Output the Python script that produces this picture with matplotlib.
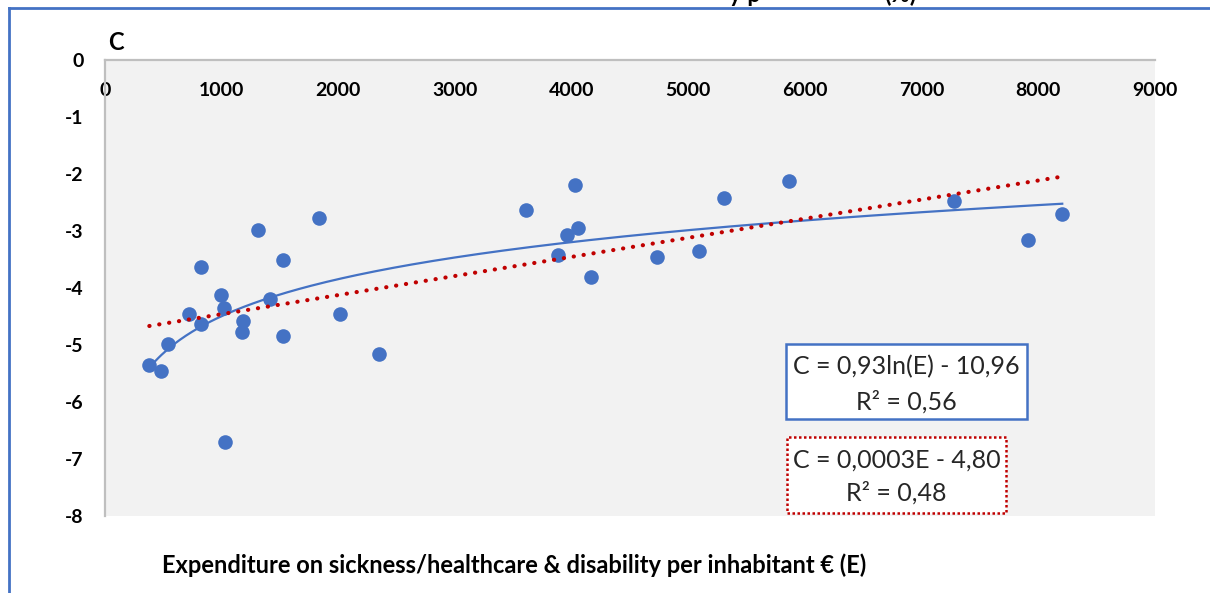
import numpy as np
import matplotlib as mpl

mpl.use("Agg")

import matplotlib.pyplot as plt
from matplotlib.patches import Rectangle
from matplotlib.lines import Line2D

# ================================
# data
# ================================
expenditure = [380, 483, 540, 720, 823, 826, 991, 1017, 1026, 1186, 1174, 1311,
               1411, 1523, 1523, 1837, 2011, 2351, 3608, 4029, 4052, 3963, 3880,
               4166, 4729, 5091, 5308, 5863, 7280, 7914, 8205]
c_values = [-5.35, -5.46, -4.99, -4.46, -4.63, -3.63, -4.13, -4.35, -6.70, -4.58,
            -4.77, -2.99, -4.20, -3.51, -4.84, -2.77, -4.46, -5.16, -2.63, -2.19,
            -2.94, -3.07, -3.42, -3.81, -3.46, -3.35, -2.42, -2.12, -2.47, -3.16,
            -2.70]
x_ticks = [0, 1000, 2000, 3000, 4000, 5000, 6000, 7000, 8000, 9000]
y_ticks = [0, -1, -2, -3, -4, -5, -6, -7, -8]

log_eq = ["C = 0,93ln(E) - 10,96", "R² = 0,56"]
lin_eq = ["C = 0,0003E - 4,80", "R² = 0,48"]
x_label = "Expenditure on sickness/healthcare & disability per inhabitant € (E)"
y_label = "C"

BLUE = "#4472c4"
RED = "#c00000"
FONT = ["Lato", "DejaVu Sans"]

W, H = 1210, 593
fig = plt.figure(figsize=(W / 100, H / 100), dpi=100)
fig.patch.set_facecolor("white")


def fx(px):
    return px / W


def fy(py):
    return 1 - py / H


ax = fig.add_axes([fx(105), fy(516), fx(1050), 456 / H])
ax.set_facecolor("#f2f2f2")
ax.set_xlim(0, 9000)
ax.set_ylim(-8, 0)

for side in ["right", "bottom"]:
    ax.spines[side].set_visible(False)
for side in ["top", "left"]:
    ax.spines[side].set_color("#bfbfbf")
    ax.spines[side].set_linewidth(1.6)

ax.set_xticks(x_ticks)
ax.set_xticklabels([str(t) for t in x_ticks])
ax.tick_params(axis="x", top=True, bottom=False, labeltop=True, labelbottom=False,
               length=0, pad=-28)
ax.set_yticks(y_ticks)
ax.set_yticklabels([str(t) for t in y_ticks])
ax.tick_params(axis="y", length=0, pad=15.5)
for lab in ax.get_xticklabels() + ax.get_yticklabels():
    lab.set_family(FONT)
    lab.set_fontweight("bold")
    lab.set_fontsize(14)

E = np.array(expenditure, dtype=float)
C = np.array(c_values, dtype=float)

# trend lines (fitted from the points, like Excel)
xs = np.linspace(E.min(), E.max(), 300)
a_log, b_log = np.polyfit(np.log(E), C, 1)
a_lin, b_lin = np.polyfit(E, C, 1)

ax.plot(E, C, "o", color=BLUE, markersize=10.5, markeredgewidth=0, zorder=3)
ax.plot(xs, a_log * np.log(xs) + b_log, color=BLUE, lw=1.6, zorder=4)
ax.plot(xs, a_lin * xs + b_lin, color=RED, lw=3.0, linestyle=(0, (0.05, 2.35)),
        dash_capstyle="round", zorder=5)

# equation boxes
fig.add_artist(Rectangle((fx(786), fy(419)), fx(241), 75 / H, transform=fig.transFigure,
                         facecolor="white", edgecolor=BLUE, lw=1.8, zorder=6))
fig.add_artist(Rectangle((fx(787), fy(513)), fx(219), 76 / H, transform=fig.transFigure,
                         facecolor="white", edgecolor=RED, lw=1.8,
                         linestyle=(0, (1, 1)), zorder=6))
for txt, py in zip(log_eq, [367, 402]):
    fig.text(fx(906.5), fy(py), txt, ha="center", va="center", family=FONT,
             fontsize=18, color="#262626", zorder=7)
for txt, py in zip(lin_eq, [460, 493]):
    fig.text(fx(896.5), fy(py), txt, ha="center", va="center", family=FONT,
             fontsize=18, color="#262626", zorder=7)

# axis titles
fig.text(fx(116), fy(42), y_label, ha="center", va="center", family=FONT,
         fontweight="bold", fontsize=17)
fig.text(fx(514), fy(565), x_label, ha="center", va="center", family=FONT,
         fontweight="bold", fontsize=17)

# cut-off title remnants above the frame
fig.text(fx(745), fy(2), "y p", ha="center", va="baseline", family=FONT,
         fontweight="bold", fontsize=17)
fig.text(fx(900), fy(2), "(%)", ha="center", va="baseline", family=FONT,
         fontweight="bold", fontsize=17)

# outer frame
fig.add_artist(Line2D([fx(9), 1], [fy(8), fy(8)], transform=fig.transFigure,
                      color=BLUE, lw=2))
fig.add_artist(Line2D([fx(9), fx(9)], [fy(8), 0], transform=fig.transFigure,
                      color=BLUE, lw=2))

fig.savefig("out.png", dpi=100)
plt.close(fig)
